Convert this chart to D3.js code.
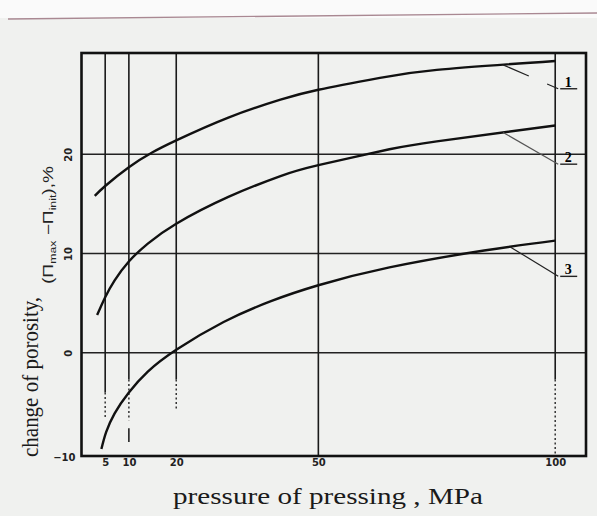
<!DOCTYPE html>
<html>
<head>
<meta charset="utf-8">
<script src="https://d3js.org/d3.v7.min.js"></script>
<style>
  body { margin: 0; background: #f0f1ef; }
  svg { display: block; }
  .tick text { font-family: "DejaVu Sans", sans-serif; font-weight: bold; font-size: 10px; fill: #222; }
</style>
</head>
<body>
<svg id="chart" width="597" height="516"></svg>
<script>
pressure1 = [2.8, 5, 10, 15, 20, 31, 42, 50, 63, 75, 100]
porosity1 = [15.8, 16.8, 18.7, 20.2, 21.4, 23.7, 25.5, 26.5, 27.7, 28.5, 29.4]
pressure2 = [3.3, 5, 7, 10, 14, 20, 31, 42, 50, 65, 75, 100]
porosity2 = [3.8, 5.6, 7.3, 9.2, 11.0, 13.0, 15.7, 17.8, 18.9, 20.5, 21.3, 22.9]
pressure3 = [4.2, 5.2, 7, 10, 14, 20, 30, 40, 50, 65, 85, 100]
porosity3 = [-9.7, -8.0, -6.1, -4.0, -1.9, 0.3, 3.1, 5.2, 6.8, 8.6, 10.3, 11.3]
curveNames = ["1", "2", "3"]
leaderFrom = [89, 89, 90.5]
labelLevel = [26.8, 19.2, 7.9]
xTicks = [5, 10, 20, 50, 100]
yTicks = [20, 10, 0, -10]
gridY = [20, 10, 0]
solidTo = [-4.0, -2.7, -2.7, -10.4, -2.7]
dottedTo = [-6.6, -6.8, -5.8, -10.4, -10.4]

svg = d3.select("#chart")

// scanned page look
svg.append("rect").attr("width", 597).attr("height", 18).attr("fill", "#fafafa")
svg.append("line")
    .attr("x1", 8).attr("y1", 19).attr("x2", 597).attr("y2", 13)
    .attr("stroke", "#a98892").attr("stroke-width", 1.3)

x = d3.scaleLinear([0, 106.5], [81.5, 586])
y = d3.scaleLinear([-10.4, 30.2], [456, 53])

series = [
    pressure1.map((p, i) => [p, porosity1[i]]),
    pressure2.map((p, i) => [p, porosity2[i]]),
    pressure3.map((p, i) => [p, porosity3[i]])
]

// horizontal grid
svg.append("g").selectAll("line")
    .data(gridY).join("line")
    .attr("x1", x(0)).attr("x2", x(106.5))
    .attr("y1", d => y(d)).attr("y2", d => y(d))
    .attr("stroke", "#222").attr("stroke-width", 1.4)

// vertical grid, solid then dotted towards the bottom
svg.append("g").selectAll("line")
    .data(xTicks).join("line")
    .attr("x1", d => x(d)).attr("x2", d => x(d))
    .attr("y1", y(30.2)).attr("y2", (d, i) => y(solidTo[i]))
    .attr("stroke", "#1a1a1a").attr("stroke-width", 1.6)

svg.append("g").selectAll("line")
    .data(xTicks).join("line")
    .attr("x1", d => x(d)).attr("x2", d => x(d))
    .attr("y1", (d, i) => y(solidTo[i])).attr("y2", (d, i) => y(dottedTo[i]))
    .attr("stroke", "#333").attr("stroke-width", 1.5)
    .attr("stroke-dasharray", "2,2.5")

svg.append("line")
    .attr("x1", x(10)).attr("x2", x(10))
    .attr("y1", y(-7.6)).attr("y2", y(-9.0))
    .attr("stroke", "#222").attr("stroke-width", 1.6)

// frame
svg.append("rect")
    .attr("x", x(0)).attr("y", y(30.2))
    .attr("width", x(106.5) - x(0)).attr("height", y(-10.4) - y(30.2))
    .attr("fill", "none").attr("stroke", "#111").attr("stroke-width", 2.6)

// curves
line = d3.line().x(d => x(d[0])).y(d => y(d[1])).curve(d3.curveNatural)
svg.append("g").selectAll("path")
    .data(series).join("path")
    .attr("d", line)
    .attr("fill", "none").attr("stroke", "#111").attr("stroke-width", 2.4)

// curve labels with pointers
ends = series.map((s, i) => d3.scaleLinear(s.map(d => d[0]), s.map(d => d[1]))(leaderFrom[i]))
svg.append("g").selectAll("line")
    .data(curveNames).join("line")
    .attr("x1", (d, i) => x(leaderFrom[i])).attr("y1", (d, i) => y(ends[i]))
    .attr("x2", x(100) + 3).attr("y2", (d, i) => y(labelLevel[i]) + 2)
    .attr("stroke", (d, i) => i == 1 ? "#555" : "#222").attr("stroke-width", 1.2)
    .attr("stroke-dasharray", (d, i) => i == 0 ? "28,20,40" : null)

svg.append("g").selectAll("text")
    .data(curveNames).join("text")
    .attr("x", x(100) + 13).attr("y", (d, i) => y(labelLevel[i]))
    .attr("text-anchor", "middle")
    .style("font-family", "Liberation Serif, serif").style("font-size", "14px").style("font-weight", "bold")
    .text(d => d)

svg.append("g").selectAll("line")
    .data(curveNames).join("line")
    .attr("x1", x(100) + 5).attr("x2", x(100) + 22)
    .attr("y1", (d, i) => y(labelLevel[i]) + 2).attr("y2", (d, i) => y(labelLevel[i]) + 2)
    .attr("stroke", "#222").attr("stroke-width", 1.4)

// axes (labels only)
xAxis = svg.append("g")
    .attr("transform", "translate(0," + y(-10.4) + ")")
    .call(d3.axisBottom(x).tickValues(xTicks).tickSize(0).tickPadding(3))
xAxis.select(".domain").remove()

yAxis = svg.append("g")
    .attr("transform", "translate(" + x(0) + ",0)")
    .call(d3.axisLeft(y).tickValues(yTicks).tickSize(0))
yAxis.select(".domain").remove()
yAxis.selectAll("text")
    .attr("x", 0).attr("dy", "0.35em")
    .attr("text-anchor", d => d == -10 ? "end" : "middle")
    .attr("transform", d => d == -10 ? "translate(-6,5)" : "translate(-13,0) rotate(-90)")

// titles
svg.append("text")
    .attr("x", 328).attr("y", 504)
    .attr("text-anchor", "middle")
    .attr("textLength", 310).attr("lengthAdjust", "spacingAndGlyphs")
    .style("font-family", "Liberation Serif, serif").style("font-size", "23px").style("fill", "#1a1a1a")
    .text("pressure of pressing , MPa")

svg.append("text")
    .attr("transform", "translate(38,457) rotate(-90) scale(1,1.1)")
    .style("font-family", "Liberation Serif, serif").style("font-size", "21px").style("fill", "#1a1a1a")
    .text("change of porosity,")

formula = svg.append("text")
    .attr("transform", "translate(53,225) rotate(-90)")
    .attr("text-anchor", "middle")
    .attr("textLength", 118).attr("lengthAdjust", "spacingAndGlyphs")
    .style("font-family", "Liberation Sans, sans-serif").style("font-size", "14px").style("fill", "#222")
formula.append("tspan").text("(Π")
formula.append("tspan").attr("dy", 3).style("font-size", "9px").text("max")
formula.append("tspan").attr("dy", -3).text(" −Π")
formula.append("tspan").attr("dy", 3).style("font-size", "9px").text("init")
formula.append("tspan").attr("dy", -3).text("),%")
</script>
</body>
</html>
